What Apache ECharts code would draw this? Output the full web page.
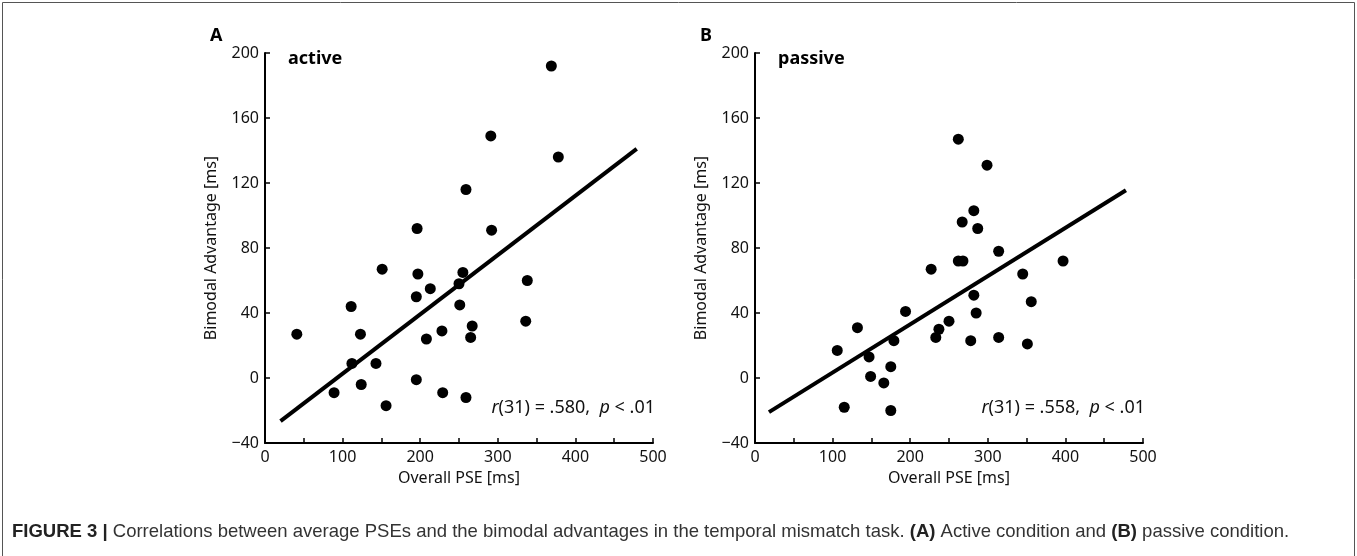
<!DOCTYPE html>
<html>
<head>
    <meta charset="UTF-8">
    <title>Figure 3</title>
    <script src="https://cdn.jsdelivr.net/npm/echarts@6/dist/echarts.min.js"></script>
    <style type="text/css">
        html, body, #main {
            height: 100%;
            width: 100%;
            margin: 0;
            padding: 0;
            background: #fff;
        }
    </style>
</head>
<body>
<div id="main"></div>
<script type="text/javascript">
    // panel A: active condition
    var activePSE = [41, 111, 123, 112, 143, 89, 124, 156, 151, 196, 197, 195, 213, 208, 195,
        369, 291, 378, 259, 292, 255, 250, 251, 338, 228, 267, 265, 336, 229, 259];
    var activeAdv = [27, 44, 27, 9, 9, -9, -4, -17, 67, 92, 64, 50, 55, 24, -1,
        192, 149, 136, 116, 91, 65, 58, 45, 60, 29, 32, 25, 35, -9, -12];
    var activeFitX = [20, 479];
    var activeFitY = [-26.5, 141];

    // panel B: passive condition
    var passivePSE = [106, 132, 147, 149, 166, 175, 179, 194, 115, 175, 262, 299, 282, 267, 287,
        314, 262, 268, 227, 397, 345, 282, 356, 285, 250, 237, 233, 278, 314, 351];
    var passiveAdv = [17, 31, 13, 1, -3, 7, 23, 41, -18, -20, 147, 131, 103, 96, 92,
        78, 72, 72, 67, 72, 64, 51, 47, 40, 35, 30, 25, 23, 25, 21];
    var passiveFitX = [18, 478];
    var passiveFitY = [-21, 115.5];

    var xTicks = [0, 100, 200, 300, 400, 500];
    var yTicks = [-40, 0, 40, 80, 120, 160, 200];

    var panelTags = ['A', 'B'];
    var panelNames = ['active', 'passive'];
    var corrTexts = [['31', '.580', '.01'], ['31', '.558', '.01']];

    var font = 'Noto Sans';
    var capFont = 'Liberation Sans';

    function pairs(xs, ys) {
        return xs.map(function (x, i) { return [x, ys[i]]; });
    }

    function xAxisFor(idx) {
        return {
            gridIndex: idx, type: 'value',
            min: xTicks[0], max: xTicks[xTicks.length - 1], interval: 50,
            name: 'Overall PSE [ms]', nameLocation: 'middle', nameGap: 27,
            nameTextStyle: {fontFamily: font, fontSize: 16, color: '#111'},
            axisLine: {show: true, onZero: false, lineStyle: {color: '#000', width: 2}},
            axisTick: {show: true, inside: true, length: 5, lineStyle: {color: '#000', width: 1.5}},
            axisLabel: {
                fontFamily: font, fontSize: 16, color: '#111', margin: 6,
                formatter: function (v) { return xTicks.indexOf(v) >= 0 ? String(v) : ''; }
            },
            splitLine: {show: false}
        };
    }

    function yAxisFor(idx) {
        return {
            gridIndex: idx, type: 'value',
            min: yTicks[0], max: yTicks[yTicks.length - 1], interval: 40,
            name: 'Bimodal Advantage [ms]', nameLocation: 'middle', nameGap: 46,
            nameTextStyle: {fontFamily: font, fontSize: 16, color: '#111'},
            axisLine: {show: true, onZero: false, lineStyle: {color: '#000', width: 2}},
            axisTick: {show: true, inside: true, length: 5, lineStyle: {color: '#000', width: 1.5}},
            axisLabel: {
                fontFamily: font, fontSize: 16, color: '#111', margin: 6,
                formatter: function (v) { return v < 0 ? '\u2212' + Math.abs(v) : String(v); }
            },
            splitLine: {show: false}
        };
    }

    var grids = [
        {left: 265, top: 53, width: 388, height: 390},
        {left: 755, top: 53, width: 388, height: 390}
    ];

    var graphics = [{
        type: 'rect', silent: true,
        shape: {x: 2.5, y: 2.5, width: 1352, height: 560},
        style: {fill: 'none', stroke: '#555', lineWidth: 1}
    }];
    grids.forEach(function (g, i) {
        graphics.push({
            type: 'text', left: g.left - 55, top: 27,
            style: {text: panelTags[i], fontFamily: font, fontSize: 18, fontWeight: 'bold', fill: '#000'}
        });
        graphics.push({
            type: 'text', left: g.left + 23, top: 50,
            style: {text: panelNames[i], fontFamily: font, fontSize: 18, fontWeight: 'bold', fill: '#000'}
        });
        var c = corrTexts[i];
        graphics.push({
            type: 'text', right: 1357 - (g.left + g.width + 2), top: 399,
            style: {
                text: '{i|r}(' + c[0] + ') = ' + c[1] + ',  {i|p} < ' + c[2],
                fontFamily: font, fontSize: 18, fill: '#111',
                rich: {i: {fontFamily: font, fontSize: 18, fontStyle: 'italic', fill: '#111'}}
            }
        });
    });
    graphics.push({
        type: 'text', left: 12, top: 522,
        style: {
            text: '{b|FIGURE 3 |} Correlations between average PSEs and the bimodal advantages in the temporal mismatch task. {b|(A)} Active condition and {b|(B)} passive condition.',
            fontFamily: capFont, fontSize: 18.5, fill: '#333',
            rich: {b: {fontFamily: capFont, fontSize: 18.5, fontWeight: 'bold', fill: '#222'}}
        }
    });

    var mycharts = echarts.init(document.getElementById('main'));
    var option = {
        backgroundColor: '#fff',
        animation: false,
        grid: grids,
        xAxis: [xAxisFor(0), xAxisFor(1)],
        yAxis: [yAxisFor(0), yAxisFor(1)],
        graphic: graphics,
        series: [
            {
                type: 'line', xAxisIndex: 0, yAxisIndex: 0, silent: true,
                data: pairs(activeFitX, activeFitY), showSymbol: false,
                lineStyle: {color: '#000', width: 4}
            },
            {
                type: 'scatter', xAxisIndex: 0, yAxisIndex: 0,
                data: pairs(activePSE, activeAdv), symbolSize: 11,
                itemStyle: {color: '#000', opacity: 1}
            },
            {
                type: 'line', xAxisIndex: 1, yAxisIndex: 1, silent: true,
                data: pairs(passiveFitX, passiveFitY), showSymbol: false,
                lineStyle: {color: '#000', width: 4}
            },
            {
                type: 'scatter', xAxisIndex: 1, yAxisIndex: 1,
                data: pairs(passivePSE, passiveAdv), symbolSize: 11,
                itemStyle: {color: '#000', opacity: 1}
            }
        ]
    };
    mycharts.setOption(option);
</script>
</body>
</html>
